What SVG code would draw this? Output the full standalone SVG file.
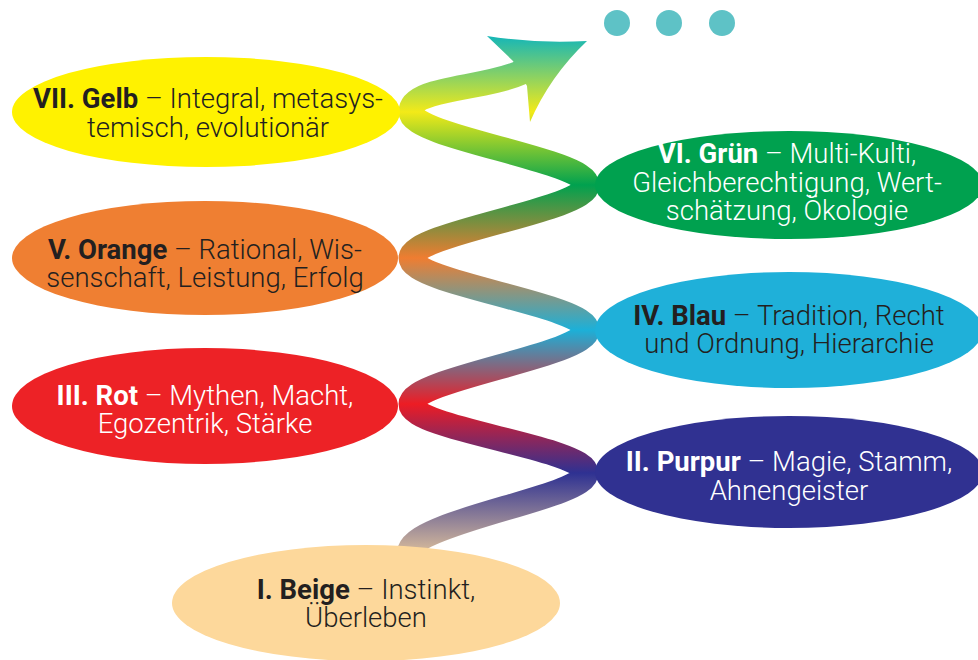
<svg xmlns="http://www.w3.org/2000/svg" width="978" height="660" viewBox="0 0 978 660">
  <defs>
    <linearGradient id="spiral" gradientUnits="userSpaceOnUse" x1="0" y1="570" x2="0" y2="36">
      <stop offset="0" stop-color="#fcd99d"/>
      <stop offset="0.1816" stop-color="#2e3192"/>
      <stop offset="0.3109" stop-color="#ed1c24"/>
      <stop offset="0.4494" stop-color="#1cb0d8"/>
      <stop offset="0.5843" stop-color="#ef7d31"/>
      <stop offset="0.7210" stop-color="#00a14f"/>
      <stop offset="0.8577" stop-color="#f3ea18"/>
      <stop offset="1" stop-color="#14b6b8"/>
    </linearGradient>
    <style>
      .ribbon { fill: none; stroke: url(#spiral); stroke-width: 25; }
      .head { fill: url(#spiral); }
      .dot { fill: #5ec2c6; }
      .lbl { font-family: Roboto, "Liberation Sans", sans-serif; font-size: 27.5px; font-weight: 300; text-anchor: middle; }
      .lbl .b { font-weight: 700; }
      .dark { fill: #231f20; }
      .light { fill: #ffffff; }
    </style>
  </defs>

  <g id="connectors">
    <path class="ribbon" d="M 396 588 L 410 550 C 420 520, 586 497, 586 473 C 586 448, 411 429, 411 404 C 411 379, 587 355, 587 330 C 587 305, 411 283, 411 258 C 411 233, 587 210, 587 185 C 587 160, 411 137, 411 112 C 411 87, 482 90, 522 72"/>
    <path class="head" d="M 587 41 Q 537 44 487 36 L 513 61 L 527 86 L 530 122 Q 550 76 587 41 Z"/>
  </g>

  <g id="dots">
    <circle class="dot" cx="617" cy="23" r="13"/>
    <circle class="dot" cx="669" cy="23" r="13"/>
    <circle class="dot" cx="722" cy="23" r="13"/>
  </g>

  <g id="node-gelb">
    <ellipse cx="206" cy="112" rx="194" ry="55" fill="#fff200"/>
    <text class="lbl dark" x="208" y="108"><tspan class="b">VII. Gelb</tspan> – Integral, metasys-<tspan x="208" dy="29">temisch, evolutionär</tspan></text>
  </g>

  <g id="node-gruen">
    <ellipse cx="789" cy="185" rx="194" ry="54" fill="#00a14f"/>
    <text class="lbl light" x="787" y="163"><tspan class="b">VI. Grün</tspan> – Multi-Kulti,<tspan x="787" dy="28.5">Gleichberechtigung, Wert-</tspan><tspan x="787" dy="28.5">schätzung, Ökologie</tspan></text>
  </g>

  <g id="node-orange">
    <ellipse cx="205" cy="258" rx="193" ry="57" fill="#ef7f32"/>
    <text class="lbl dark" x="205" y="259"><tspan class="b">V. Orange</tspan> – Rational, Wis-<tspan x="205" dy="28">senschaft, Leistung, Erfolg</tspan></text>
  </g>

  <g id="node-blau">
    <ellipse cx="789" cy="330" rx="194" ry="58" fill="#1fb0d9"/>
    <text class="lbl dark" x="789" y="325"><tspan class="b">IV. Blau</tspan> – Tradition, Recht<tspan x="789" dy="28">und Ordnung, Hierarchie</tspan></text>
  </g>

  <g id="node-rot">
    <ellipse cx="205" cy="406" rx="193" ry="58" fill="#ed2226"/>
    <text class="lbl light" x="205" y="405"><tspan class="b">III. Rot</tspan> – Mythen, Macht,<tspan x="205" dy="28">Egozentrik, Stärke</tspan></text>
  </g>

  <g id="node-purpur">
    <ellipse cx="789" cy="472" rx="194" ry="56" fill="#303191"/>
    <text class="lbl light" x="789" y="471"><tspan class="b">II. Purpur</tspan> – Magie, Stamm,<tspan x="789" dy="29">Ahnengeister</tspan></text>
  </g>

  <g id="node-beige">
    <ellipse cx="366" cy="603" rx="194" ry="58" fill="#fdd89b"/>
    <text class="lbl dark" x="366" y="599"><tspan class="b">I. Beige</tspan> – Instinkt,<tspan x="366" dy="28">Überleben</tspan></text>
  </g>
</svg>
